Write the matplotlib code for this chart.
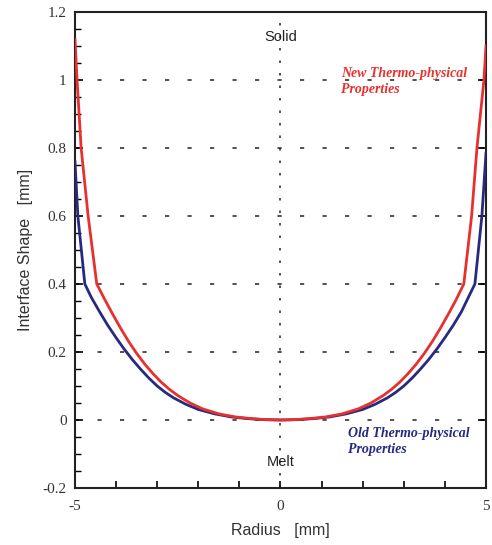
import matplotlib
matplotlib.use("Agg")
import matplotlib.pyplot as plt
from matplotlib.ticker import MultipleLocator

# Data
new_radius = [-5.0, -4.95, -4.85, -4.68, -4.47, -4.3, -4.1, -3.9, -3.7, -3.5, -3.3, -3.1, -2.9,
              -2.7, -2.5, -2.2, -1.9, -1.5, -1.1, -0.7, -0.35, 0.0,
              0.35, 0.7, 1.1, 1.5, 1.9, 2.2, 2.5, 2.7, 2.9, 3.1, 3.3, 3.5, 3.7, 3.9, 4.1,
              4.27, 4.46, 4.65, 4.78, 4.95, 5.0]
new_shape = [1.12, 1.0, 0.80, 0.60, 0.40, 0.36, 0.315, 0.272, 0.232, 0.196, 0.164, 0.136, 0.111,
             0.090, 0.072, 0.050, 0.033, 0.018, 0.009, 0.004, 0.001, 0.0,
             0.001, 0.004, 0.009, 0.018, 0.033, 0.050, 0.072, 0.090, 0.111, 0.136, 0.164, 0.196,
             0.232, 0.272, 0.315, 0.353, 0.40, 0.60, 0.80, 1.0, 1.10]
old_radius = [-5.0, -4.93, -4.76, -4.6, -4.4, -4.2, -4.0, -3.8, -3.6, -3.4, -3.2, -3.0, -2.8,
              -2.6, -2.3, -2.0, -1.6, -1.2, -0.8, -0.4, 0.0,
              0.4, 0.8, 1.2, 1.6, 2.0, 2.3, 2.6, 2.8, 3.0, 3.2, 3.4, 3.6, 3.8, 4.0, 4.2,
              4.4, 4.54, 4.73, 4.90, 5.0]
old_shape = [0.76, 0.60, 0.40, 0.36, 0.318, 0.278, 0.242, 0.208, 0.177, 0.149, 0.123, 0.100, 0.081,
             0.065, 0.046, 0.031, 0.018, 0.009, 0.004, 0.001, 0.0,
             0.001, 0.004, 0.009, 0.018, 0.031, 0.046, 0.065, 0.081, 0.100, 0.123, 0.149, 0.177,
             0.208, 0.242, 0.278, 0.318, 0.353, 0.40, 0.60, 0.785]

x_ticklabels = {-5: "-5", 0: "0", 5: "5"}
y_ticks = [-0.2, 0, 0.2, 0.4, 0.6, 0.8, 1.0, 1.2]
y_ticklabels = ["-0.2", "0", "0.2", "0.4", "0.6", "0.8", "1", "1.2"]
grid_y = [0, 0.2, 0.4, 0.6, 0.8, 1.0]

red = "#e8302e"
blue = "#262a80"

fig = plt.figure(figsize=(4.92, 5.45), dpi=100)
ax = fig.add_axes([0.1524, 0.1046, 0.8354, 0.8734])

ax.set_xlim(-5, 5)
ax.set_ylim(-0.2, 1.2)

for gy in grid_y:
    ax.axhline(gy, color="#333333", lw=1.2, ls=(0, (2.5, 11)), zorder=1)
ax.axvline(0, color="#333333", lw=1.2, ls=(0, (1.5, 6)), zorder=1)

ax.plot(old_radius, old_shape, color=blue, lw=2.0, zorder=3)
ax.plot(new_radius, new_shape, color=red, lw=2.0, zorder=4)

xt = list(range(-5, 6))
ax.set_xticks(xt)
ax.set_xticklabels([x_ticklabels.get(v, "") for v in xt])
ax.set_yticks(y_ticks)
ax.set_yticklabels(y_ticklabels)
ax.yaxis.set_minor_locator(MultipleLocator(0.05))

serif = ["Liberation Serif", "DejaVu Serif"]
for lab in ax.get_xticklabels() + ax.get_yticklabels():
    lab.set_family(serif)
    lab.set_fontsize(11)
    lab.set_color("#333333")

ax.tick_params(axis="x", which="major", direction="in", length=5, width=1.2, pad=9)
ax.tick_params(axis="y", which="major", direction="in", length=6, width=1.2, pad=6, right=True)
ax.tick_params(axis="y", which="minor", direction="in", length=4, width=1.0, right=False)

for s in ax.spines.values():
    s.set_linewidth(1.5)
    s.set_color("#222222")

ax.set_xlabel("Radius   [mm]", family=["Liberation Sans", "DejaVu Sans"], fontsize=11.5,
              color="#333333", labelpad=7)
ax.set_ylabel("Interface Shape   [mm]", family=["Liberation Sans", "DejaVu Sans"], fontsize=11.5,
              color="#333333", labelpad=7)

ax.text(0, 1.126, "Solid", ha="center", va="center", family=["Liberation Sans", "DejaVu Sans"],
        fontsize=10.5, color="#222222")
ax.text(0, -0.124, "Melt", ha="center", va="center", family=["Liberation Sans", "DejaVu Sans"],
        fontsize=10.5, color="#222222")
ax.text(1.47, 0.997, "New Thermo-physical\nProperties", ha="left", va="center", family=serif,
        style="italic", weight="bold", fontsize=10, color=red, linespacing=1.3)
ax.text(1.64, -0.062, "Old Thermo-physical\nProperties", ha="left", va="center", family=serif,
        style="italic", weight="bold", fontsize=10, color=blue, linespacing=1.3)

fig.savefig("out.png", dpi=100)
